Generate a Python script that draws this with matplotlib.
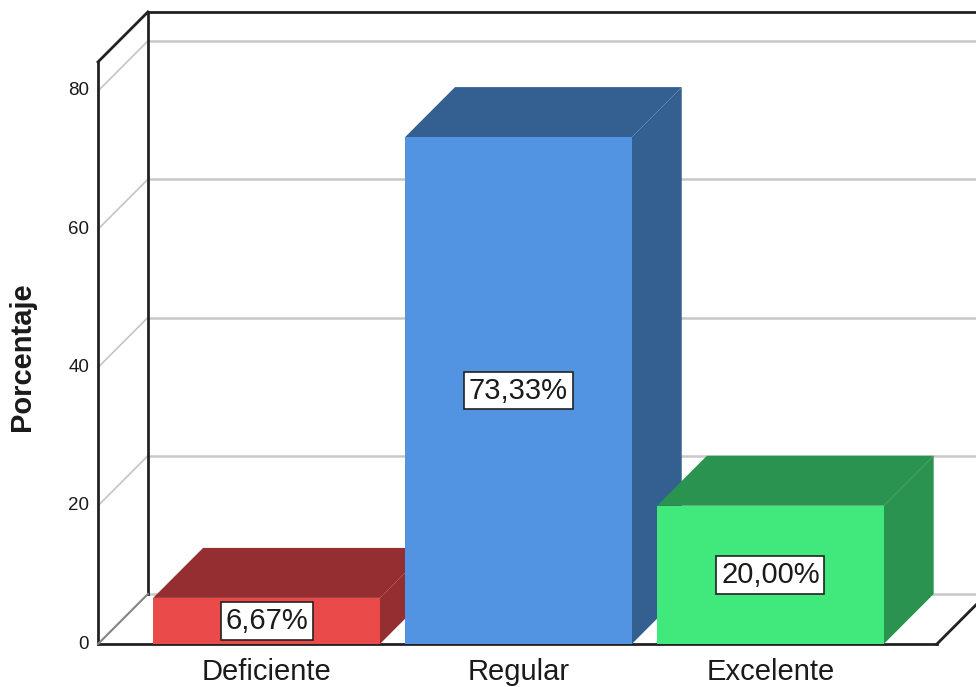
import matplotlib
matplotlib.use("Agg")
import matplotlib.pyplot as plt
from matplotlib.patches import Polygon

plt.rcParams['font.family'] = ['Liberation Sans', 'DejaVu Sans']

categories = ['Deficiente', 'Regular', 'Excelente']
porcentajes = [6.67, 73.33, 20.00]
etiquetas = ['6,67%', '73,33%', '20,00%']
yticks = [0, 20, 40, 60, 80]

front_colors = ['#EB4A4B', '#5294E2', '#41E87B']
dark_colors = ['#952E30', '#345F91', '#2A9350']

# 3D layout (data units)
bar_w = 0.9
dx, dy = 0.198, 7.23      # depth offset
x_left, x_right = -0.669, 2.661
y_top = 84.2

fig = plt.figure(figsize=(9.76, 6.87), dpi=100)
ax = fig.add_axes([0, 0, 1, 1])
ax.set_xlim(-1.058, 2.816)
ax.set_ylim(-6.22, 93.16)
ax.axis('off')

grid_c = '#C8C8C8'
frame_c = '#222222'

# back wall gridlines + side wall diagonals
for t in yticks:
    ax.plot([x_left, x_left + dx], [t, t + dy], color=grid_c, lw=1.3, zorder=1)
    ax.plot([x_left + dx, x_right + dx + 0.5], [t + dy, t + dy], color=grid_c, lw=1.8, zorder=1)

# frame
ax.plot([x_left, x_left], [0, y_top], color=frame_c, lw=2, zorder=2)
ax.plot([x_left, x_left + dx], [y_top, y_top + dy], color=frame_c, lw=2, zorder=2)
ax.plot([x_left + dx, x_left + dx], [dy, y_top + dy], color=frame_c, lw=2, zorder=2)
ax.plot([x_left + dx, x_right + dx + 0.5], [y_top + dy, y_top + dy], color=frame_c, lw=2, zorder=2)
ax.plot([x_left, x_right], [0, 0], color=frame_c, lw=2, zorder=2)
ax.plot([x_right, x_right + dx], [0, dy], color=frame_c, lw=2, zorder=2)
ax.plot([x_left, x_left + dx], [0, dy], color='#888888', lw=1.5, zorder=2)

for i, (v, fc, dc) in enumerate(zip(porcentajes, front_colors, dark_colors)):
    x0 = i - bar_w / 2
    x1 = i + bar_w / 2
    z = 3 + i
    top = Polygon([(x0, v), (x1, v), (x1 + dx, v + dy), (x0 + dx, v + dy)],
                  closed=True, facecolor=dc, edgecolor='none', zorder=z)
    side = Polygon([(x1, 0), (x1 + dx, dy), (x1 + dx, v + dy), (x1, v)],
                   closed=True, facecolor=dc, edgecolor='none', zorder=z)
    front = Polygon([(x0, 0), (x1, 0), (x1, v), (x0, v)],
                    closed=True, facecolor=fc, edgecolor='none', zorder=z)
    ax.add_patch(top)
    ax.add_patch(side)
    ax.add_patch(front)
    ax.text(i, v / 2, etiquetas[i], ha='center', va='center', fontsize=21,
            color='#1a1a1a', zorder=10,
            bbox=dict(boxstyle='square,pad=0.16', facecolor='white',
                      edgecolor='#222222', lw=1.2))
    ax.text(i, -4.1, categories[i], ha='center', va='center', fontsize=21,
            color='#1a1a1a')

for t in yticks:
    ax.text(x_left - 0.035, t, str(t), ha='right', va='center', fontsize=13.5,
            color='#1a1a1a')

ax.text(-0.97, 41.5, 'Porcentaje', rotation=90, ha='center', va='center',
        fontsize=21, fontweight='bold', color='#1a1a1a')

fig.savefig('out.png', dpi=100)
